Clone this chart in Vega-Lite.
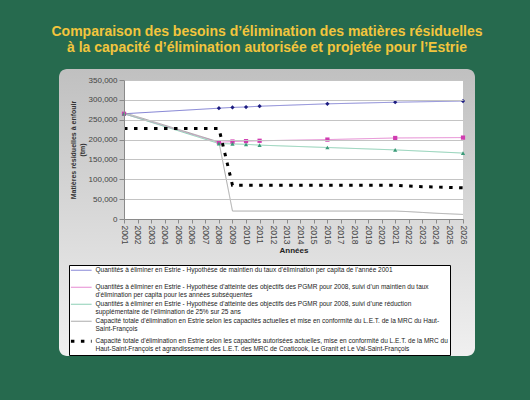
{
  "$schema": "https://vega.github.io/schema/vega-lite/v6.json",
  "autosize": {"type": "none"},
  "width": 416,
  "height": 287,
  "padding": {"left": 59, "top": 69, "right": 55, "bottom": 44},
  "background": "#266a4e",
  "title": {
    "text": ["Comparaison des besoins d’élimination des matières résiduelles", "à la capacité d’élimination autorisée et projetée pour l’Estrie"],
    "color": "#f2c53d",
    "font": "Liberation Sans",
    "fontSize": 14,
    "fontWeight": "bold",
    "lineHeight": 16,
    "anchor": "middle",
    "baseline": "alphabetic",
    "offset": 3
  },
  "data": {"values": [
    {"series": "A", "year": 2001, "value": 265000},
    {"series": "A", "year": 2008, "value": 279000},
    {"series": "A", "year": 2009, "value": 281000},
    {"series": "A", "year": 2010, "value": 282000},
    {"series": "A", "year": 2011, "value": 284000},
    {"series": "A", "year": 2016, "value": 290000},
    {"series": "A", "year": 2021, "value": 294000},
    {"series": "A", "year": 2026, "value": 297000},
    {"series": "B", "year": 2001, "value": 265000},
    {"series": "B", "year": 2008, "value": 193000},
    {"series": "B", "year": 2009, "value": 195000},
    {"series": "B", "year": 2010, "value": 196000},
    {"series": "B", "year": 2011, "value": 197000},
    {"series": "B", "year": 2016, "value": 200000},
    {"series": "B", "year": 2021, "value": 204000},
    {"series": "B", "year": 2026, "value": 205000},
    {"series": "C", "year": 2001, "value": 265000},
    {"series": "C", "year": 2008, "value": 190000},
    {"series": "C", "year": 2009, "value": 189000},
    {"series": "C", "year": 2010, "value": 188000},
    {"series": "C", "year": 2011, "value": 186000},
    {"series": "C", "year": 2016, "value": 180000},
    {"series": "C", "year": 2021, "value": 174000},
    {"series": "C", "year": 2026, "value": 166000},
    {"series": "D", "year": 2001, "value": 268000},
    {"series": "D", "year": 2008, "value": 194000},
    {"series": "D", "year": 2009, "value": 20000},
    {"series": "D", "year": 2021, "value": 20000},
    {"series": "D", "year": 2022, "value": 18500},
    {"series": "D", "year": 2023, "value": 16500},
    {"series": "D", "year": 2024, "value": 14500},
    {"series": "D", "year": 2025, "value": 13000},
    {"series": "D", "year": 2026, "value": 11500},
    {"series": "E", "year": 2001, "value": 228000},
    {"series": "E", "year": 2002, "value": 228000},
    {"series": "E", "year": 2003, "value": 228000},
    {"series": "E", "year": 2004, "value": 228000},
    {"series": "E", "year": 2005, "value": 228000},
    {"series": "E", "year": 2006, "value": 228000},
    {"series": "E", "year": 2007, "value": 228000},
    {"series": "E", "year": 2008, "value": 228000},
    {"series": "E", "year": 2009, "value": 85000},
    {"series": "E", "year": 2010, "value": 85000},
    {"series": "E", "year": 2011, "value": 85000},
    {"series": "E", "year": 2012, "value": 85000},
    {"series": "E", "year": 2013, "value": 85000},
    {"series": "E", "year": 2014, "value": 85000},
    {"series": "E", "year": 2015, "value": 85000},
    {"series": "E", "year": 2016, "value": 85000},
    {"series": "E", "year": 2017, "value": 85000},
    {"series": "E", "year": 2018, "value": 85000},
    {"series": "E", "year": 2019, "value": 85000},
    {"series": "E", "year": 2020, "value": 85000},
    {"series": "E", "year": 2021, "value": 85000},
    {"series": "E", "year": 2022, "value": 83000},
    {"series": "E", "year": 2023, "value": 81500},
    {"series": "E", "year": 2024, "value": 80500},
    {"series": "E", "year": 2025, "value": 79500},
    {"series": "E", "year": 2026, "value": 78500}
  ]},
  "layer": [
    {
      "data": {"values": [{}]},
      "mark": {"type": "rect", "fill": "#ffffff"},
      "encoding": {
        "x": {"datum": 2001, "type": "ordinal"},
        "x2": {"datum": 2026},
        "y": {"datum": 0, "type": "quantitative"},
        "y2": {"datum": 350000}
      }
    },
    {
      "mark": {"type": "line", "interpolate": "linear"},
      "encoding": {
        "x": {
          "field": "year", "type": "ordinal",
          "scale": {"type": "point", "domain": [2001,2002,2003,2004,2005,2006,2007,2008,2009,2010,2011,2012,2013,2014,2015,2016,2017,2018,2019,2020,2021,2022,2023,2024,2025,2026], "range": [65, 404], "padding": 0},
          "axis": {
            "labelAngle": 90, "labelAlign": "left", "labelBaseline": "middle", "labelOverlap": false, "offset": -137, "title": "Années",
            "grid": false, "tickSize": 4, "domainColor": "#8a8a8a", "tickColor": "#8a8a8a",
            "labelFontSize": 8.5, "labelColor": "#444444", "labelPadding": 2,
            "titleFontSize": 8, "titleFontWeight": "bold", "titleColor": "#222222", "titlePadding": 3
          }
        },
        "y": {
          "field": "value", "type": "quantitative",
          "scale": {"domain": [0, 350000], "range": [150, 11], "nice": false},
          "axis": {
            "values": [0, 50000, 100000, 150000, 200000, 250000, 300000, 350000],
            "format": ",d", "offset": -65,
            "title": ["Matières résiduelles à enfouir", "(tm)"],
            "grid": true, "gridColor": "#c4c4c4", "zindex": 1,
            "tickSize": 5, "domainColor": "#8a8a8a", "tickColor": "#8a8a8a",
            "labelFontSize": 8, "labelColor": "#444444", "labelPadding": 2,
            "titleFontSize": 7, "titleFontWeight": "bold", "titleColor": "#333333", "titlePadding": 3, "titleLineHeight": 9
          }
        },
        "color": {
          "field": "series", "type": "nominal",
          "scale": {"domain": ["A", "B", "C", "D", "E"], "range": ["#8282d4", "#e484d0", "#86cdb0", "#a6a6a6", "#000000"]},
          "legend": {
            "orient": "none", "legendX": 10, "legendY": 196, "title": null,
            "symbolType": "M-2.3,0H2.3", "symbolSize": 81, "symbolOffset": 7, "labelOffset": 11,
            "labelFontSize": 6.5, "labelLimit": 600, "labelColor": "#222222",
            "fillColor": "#ffffff", "strokeColor": "#000000", "padding": 2, "rowPadding": 2,
            "labelExpr": "datum.label == 'A' ? ['Quantités à éliminer en Estrie - Hypothèse de maintien du taux d’élimination per capita de l’année 2001', ' '] : datum.label == 'B' ? ['Quantités à éliminer en Estrie - Hypothèse d’atteinte des objectifs des PGMR pour 2008, suivi d’un maintien du taux', 'd’élimination per capita pour les années subséquentes'] : datum.label == 'C' ? ['Quantités à éliminer en Estrie - Hypothèse d’atteinte des objectifs des PGMR pour 2008, suivi d’une réduction', 'supplémentaire de l’élimination de 25% sur 25 ans'] : datum.label == 'D' ? ['Capacité totale d’élimination en Estrie selon les capacités actuelles et mise en conformité du L.E.T. de la MRC du Haut-', 'Saint-François'] : ['Capacité totale d’élimination en Estrie selon les capacités autorisées actuelles, mise en conformité du L.E.T. de la MRC du', 'Haut-Saint-François et agrandissement des L.E.T. des MRC de Coaticook, Le Granit et Le Val-Saint-François']",
            "encode": {
              "labels": {"update": {"lineHeight": {"value": 8}}},
              "symbols": {"update": {"strokeWidth": {"signal": "datum.value == 'E' ? 3 : 1"}}}
            }
          }
        },
        "strokeDash": {
          "field": "series", "type": "nominal",
          "scale": {"domain": ["A", "B", "C", "D", "E"], "range": [[1, 0], [1, 0], [1, 0], [1, 0], [3.5, 6.5]]}
        },
        "strokeWidth": {"condition": {"test": "datum.series == 'E'", "value": 3}, "value": 1}
      }
    },
    {
      "transform": [{"filter": {"field": "series", "oneOf": ["A", "B", "C"]}}],
      "mark": {"type": "point", "filled": true, "size": 18, "opacity": 1},
      "encoding": {
        "x": {"field": "year", "type": "ordinal"},
        "y": {"field": "value", "type": "quantitative"},
        "shape": {"field": "series", "type": "nominal", "scale": {"domain": ["A", "B", "C"], "range": ["diamond", "square", "triangle-up"]}, "legend": null},
        "fill": {"field": "series", "type": "nominal", "scale": {"domain": ["A", "B", "C"], "range": ["#1c1c80", "#d03cb0", "#3a9a78"]}, "legend": null}
      }
    }
  ],
  "config": {
    "font": "Liberation Sans",
    "view": {
      "stroke": null,
      "cornerRadius": 8,
      "fill": {"gradient": "linear", "x1": 0, "y1": 0, "x2": 0, "y2": 1, "stops": [{"offset": 0, "color": "#c0c0c0"}, {"offset": 1, "color": "#f0f0f0"}]}
    }
  }
}
